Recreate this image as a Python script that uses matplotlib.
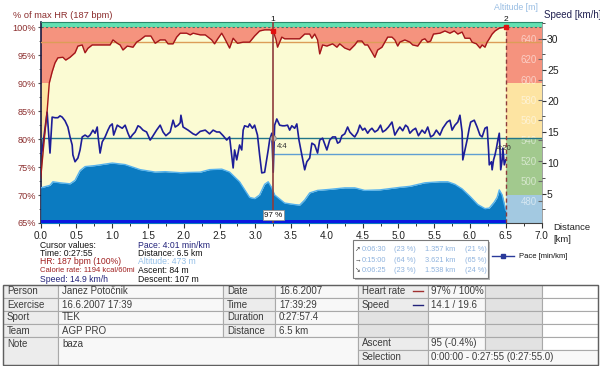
import matplotlib
matplotlib.use("Agg")
import matplotlib.pyplot as plt
from matplotlib.patches import Rectangle
from matplotlib.lines import Line2D
from matplotlib.ticker import MultipleLocator

plt.rcParams['font.family'] = ['Liberation Sans', 'DejaVu Sans']

# ---------------- data ----------------
hr_points = [(0.00, 73), (0.05, 80), (0.09, 85), (0.12, 90), (0.16, 92), (0.20, 93.6), (0.24, 94.5),
             (0.31, 94.6), (0.35, 94.1), (0.41, 94.6), (0.48, 95.4), (0.52, 96.6), (0.58, 96.8),
             (0.62, 95.4), (0.66, 96.2), (0.72, 96.8), (0.97, 96.8), (1.01, 97.7), (1.07, 97.1),
             (1.11, 96.8), (1.15, 95.9), (1.21, 96.6), (1.29, 96.4), (1.34, 97.3), (1.39, 97.7),
             (1.46, 98.4), (1.54, 98.4), (1.60, 97.1), (1.67, 97.7), (1.74, 97.7), (1.78, 97.0),
             (1.85, 97.0), (1.90, 98.2), (1.95, 98.9), (2.04, 98.9), (2.09, 98.6), (2.13, 98.9),
             (2.23, 98.6), (2.30, 98.6), (2.34, 98.2), (2.39, 97.7), (2.43, 97.0), (2.48, 98.0),
             (2.53, 98.9), (2.57, 98.0), (2.64, 96.25), (2.69, 98.0), (2.75, 97.1), (2.83, 97.3),
             (2.92, 97.3), (2.99, 98.4), (3.06, 99.3), (3.13, 99.5), (3.20, 99.5), (3.25, 99.3),
             (3.29, 97.7), (3.31, 96.4), (3.37, 98.2), (3.41, 97.9), (3.48, 97.9), (3.62, 97.9),
             (3.69, 98.75), (3.76, 98.75), (3.79, 98.0), (3.83, 98.75), (3.87, 97.7), (3.90, 95.2),
             (3.94, 96.8), (4.00, 96.6), (4.08, 97.0), (4.14, 96.4), (4.18, 97.0), (4.25, 96.25),
             (4.32, 95.9), (4.39, 96.8), (4.43, 97.5), (4.49, 97.5), (4.53, 96.8), (4.57, 96.8),
             (4.63, 95.5), (4.67, 94.6), (4.71, 95.9), (4.77, 96.4), (4.81, 97.3), (4.85, 98.2),
             (4.91, 98.2), (4.95, 97.7), (4.99, 96.6), (5.02, 97.3), (5.09, 97.7), (5.16, 97.3),
             (5.20, 96.8), (5.27, 96.6), (5.33, 97.7), (5.37, 97.9), (5.41, 97.3), (5.45, 97.5),
             (5.49, 98.75), (5.58, 98.9), (5.65, 99.3), (5.72, 98.9), (5.78, 99.3), (5.83, 98.75),
             (5.89, 99.1), (5.93, 98.0), (6.00, 98.0), (6.03, 97.3), (6.09, 97.0), (6.14, 96.25),
             (6.17, 96.8), (6.21, 96.4), (6.24, 97.3), (6.27, 97.9), (6.31, 98.75), (6.35, 99.3),
             (6.41, 99.8), (6.50, 100)]

speed_points = [(0.00, 11.3), (0.02, 12.0), (0.09, 18.2), (0.13, 11.6), (0.16, 17.4), (0.20, 17.3),
                (0.24, 17.3), (0.27, 17.6), (0.30, 17.4), (0.34, 16.8), (0.38, 15.8), (0.41, 14.2),
                (0.44, 12.9), (0.45, 11.3), (0.48, 10.2), (0.52, 10.8), (0.55, 12.1), (0.58, 14.2),
                (0.62, 14.5), (0.66, 14.2), (0.69, 14.5), (0.73, 15.3), (0.76, 14.8), (0.79, 15.8),
                (0.80, 14.5), (0.83, 11.6), (0.86, 13.4), (0.90, 14.2), (0.94, 15.3), (0.97, 16.0),
                (1.00, 16.3), (1.02, 14.5), (1.07, 16.1), (1.11, 15.8), (1.14, 15.6), (1.18, 16.1),
                (1.22, 14.8), (1.25, 14.0), (1.28, 14.5), (1.32, 15.0), (1.36, 16.0), (1.39, 15.8),
                (1.43, 15.3), (1.48, 15.0), (1.53, 13.7), (1.56, 14.2), (1.62, 15.3), (1.67, 16.1),
                (1.71, 15.0), (1.75, 14.4), (1.81, 15.0), (1.85, 16.9), (1.88, 15.8), (1.92, 16.1),
                (1.95, 16.5), (1.96, 17.7), (1.99, 15.8), (2.06, 15.3), (2.13, 14.7), (2.17, 14.5),
                (2.23, 15.1), (2.30, 15.3), (2.36, 14.7), (2.41, 15.3), (2.46, 15.0), (2.50, 15.0),
                (2.55, 14.4), (2.60, 13.7), (2.64, 14.2), (2.69, 9.2), (2.71, 12.1), (2.74, 10.5),
                (2.78, 12.9), (2.81, 12.1), (2.83, 15.3), (2.85, 16.0), (2.90, 15.8), (2.92, 16.3),
                (2.96, 15.6), (2.99, 16.1), (3.03, 14.5), (3.06, 11.3), (3.09, 8.4), (3.13, 8.5),
                (3.18, 12.1), (3.20, 13.7), (3.23, 14.8), (3.25, 8.5), (3.27, 16.1), (3.30, 17.1),
                (3.34, 16.1), (3.38, 16.0), (3.41, 16.0), (3.45, 16.1), (3.48, 15.3), (3.51, 16.0),
                (3.55, 15.6), (3.58, 16.3), (3.61, 13.7), (3.65, 11.3), (3.69, 8.9), (3.72, 10.2),
                (3.76, 10.8), (3.79, 13.2), (3.83, 12.9), (3.87, 11.6), (3.90, 13.7), (3.94, 14.0),
                (4.00, 12.1), (4.04, 13.7), (4.08, 14.2), (4.12, 14.2), (4.15, 13.2), (4.18, 13.4),
                (4.21, 14.4), (4.25, 14.7), (4.29, 15.8), (4.32, 15.0), (4.36, 14.5), (4.39, 14.2),
                (4.43, 15.0), (4.46, 16.1), (4.50, 15.3), (4.53, 15.6), (4.57, 14.8), (4.60, 15.3),
                (4.63, 15.6), (4.67, 15.0), (4.71, 15.3), (4.75, 16.1), (4.78, 15.0), (4.82, 15.3),
                (4.86, 15.8), (4.91, 16.6), (4.95, 14.5), (4.99, 15.3), (5.02, 15.8), (5.06, 15.2),
                (5.10, 16.1), (5.13, 15.8), (5.16, 14.8), (5.20, 15.3), (5.24, 15.6), (5.28, 14.4),
                (5.33, 15.3), (5.37, 14.8), (5.41, 15.8), (5.45, 14.2), (5.49, 14.5), (5.53, 15.3),
                (5.58, 14.5), (5.62, 15.6), (5.68, 16.6), (5.72, 16.9), (5.75, 15.3), (5.79, 16.1),
                (5.83, 16.6), (5.86, 17.7), (5.89, 15.0), (5.90, 10.5), (5.93, 12.1), (5.96, 13.7),
                (5.99, 15.6), (6.01, 16.6), (6.06, 16.9), (6.10, 15.8), (6.14, 14.5), (6.17, 14.2),
                (6.21, 15.6), (6.24, 15.8), (6.26, 12.1), (6.27, 9.7), (6.30, 10.2), (6.31, 8.9),
                (6.33, 10.5), (6.35, 11.3), (6.37, 12.4), (6.39, 13.7), (6.41, 14.8), (6.42, 12.1),
                (6.43, 8.9), (6.45, 10.5), (6.46, 12.4), (6.48, 9.7), (6.50, 10.5)]

alt_points = [(0.00, 493), (0.13, 495.5), (0.17, 499), (0.27, 498), (0.41, 497), (0.48, 500.4),
              (0.55, 510), (0.62, 514), (0.76, 515), (1.00, 517.5), (1.18, 516), (1.39, 511),
              (1.60, 508.6), (1.74, 509), (1.95, 508), (2.23, 508.5), (2.36, 511), (2.53, 511.5),
              (2.64, 508.6), (2.78, 499), (2.92, 483.6), (2.99, 482.4), (3.06, 486), (3.13, 496.5),
              (3.18, 499), (3.23, 493), (3.27, 486), (3.41, 478), (3.55, 476.5), (3.62, 476),
              (3.69, 481), (3.76, 488), (3.87, 490.5), (4.04, 491.5), (4.25, 493), (4.39, 493),
              (4.53, 490.5), (4.74, 491), (5.02, 493.5), (5.16, 494.5), (5.37, 498), (5.58, 499),
              (5.69, 499), (5.79, 496.5), (5.89, 492), (6.00, 484.6), (6.11, 476.5), (6.21, 472.5),
              (6.27, 473), (6.34, 479), (6.38, 483.6), (6.41, 491), (6.45, 486), (6.49, 474), (6.50, 471)]

avg_hr_pct = 97.3
avg_speed = 14.1
ref_speed = 11.4
cursor_km = [3.25, 6.5]
cursor_names = ["1", "2"]
cursor_hr = [99.3, 100]
cursor_speed = 14.0
total_km = 6.5

x_ticks = [0.0, 0.5, 1.0, 1.5, 2.0, 2.5, 3.0, 3.5, 4.0, 4.5, 5.0, 5.5, 6.0, 6.5, 7.0]
hr_ticks = [65, 70, 75, 80, 85, 90, 95, 100]
speed_ticks = [5, 10, 15, 20, 25, 30]
alt_ticks = [480, 500, 520, 540, 560, 580, 600, 620, 640]
zones = [(65, 70, '#a3c9e1'), (70, 80, '#a2c98e'), (80, 90, '#fde4a2'),
         (90, 100, '#f5937e'), (100, 102, '#62e1b2')]

cursor_left = [("Cursor values:", '#111111', 6.2), ("Time: 0:27:55", '#111111', 6.2),
               ("HR: 187 bpm (100%)", '#a02020', 6.2), ("Calorie rate: 1194 kcal/60mi", '#a02020', 5.5),
               ("Speed: 14.9 km/h", '#22227a', 6.2)]
cursor_right = [("Pace: 4:01 min/km", '#22227a'), ("Distance: 6.5 km", '#111111'),
                ("Altitude: 473 m", '#94c0e8'), ("Ascent: 84 m", '#111111'),
                ("Descent: 107 m", '#111111')]

leg_arrows = ['↗', '→', '↘']
leg_times = ['0:06:30', '0:15:00', '0:06:25']
leg_tpct = ['(23 %)', '(64 %)', '(23 %)']
leg_dist = ['1.357 km', '3.621 km', '1.538 km']
leg_dpct = ['(21 %)', '(65 %)', '(24 %)']

left_labels = ["Person", "Exercise", "Sport", "Team"]
left_values = ["Janez Potočnik", "16.6.2007 17:39", "TEK", "AGP PRO"]
note_label, note_value = "Note", "baza"
mid_labels = ["Date", "Time", "Duration", "Distance"]
mid_values = ["16.6.2007", "17:39:29", "0:27:57.4", "6.5 km"]
right_labels = ["Heart rate", "Speed", "", "", "Ascent"]
right_values = ["97% / 100%", "14.1 / 19.6", "", "", "95 (-0.4%)"]
right_marks = ['#a03030', '#22227a', None, None, None]
sel_label, sel_value = "Selection", "0:00:00 - 0:27:55 (0:27:55.0)"

# ---------------- figure ----------------
W, H = 600, 366
fig = plt.figure(figsize=(6.0, 3.66), dpi=100)
fig.patch.set_facecolor('white')


def P(x, y):
    return (x / W, 1 - y / H)


L, R, T, B = 40.7, 541.5, 22, 223
ax = fig.add_axes([L / W, 1 - B / H, (R - L) / W, (B - T) / H])
ax_alt = ax.twinx()
ax_spd = ax.twinx()
ax_hr = ax.twinx()

ax.set_xlim(0, 7)
ax.set_ylim(65, 100.9)
ax_hr.set_ylim(65, 100.9)
ax_alt.set_ylim(458.3, 656.8)
ax_spd.set_ylim(0.32, 32.74)

hr_km = [p[0] for p in hr_points]
hr_val = [p[1] for p in hr_points]
sp_km = [p[0] for p in speed_points]
sp_val = [p[1] for p in speed_points]
al_km = [p[0] for p in alt_points]
al_val = [p[1] for p in alt_points]

# zone background
for lo, hi, c in zones:
    ax.axhspan(lo, hi, color=c, lw=0, zorder=0)
ax.axhline(100, color='#3f7a68', lw=0.8, ls=(0, (2, 2)), zorder=1)
# area below HR
ax.fill_between(hr_km, 64, hr_val, color='#fbfbd3', lw=0, zorder=1)

# altitude
ax_alt.fill_between(al_km, 440, al_val, color='#0b7bc1', lw=0)
ax_alt.plot(al_km, al_val, color='#55b2ee', lw=1.0)

# speed
ax_spd.axhline(avg_speed, color='#217588', lw=1.0)
ax_spd.plot([cursor_km[0], cursor_km[1]], [ref_speed, ref_speed], color='#5f9fd2', lw=1.0)
ax_spd.plot(sp_km, sp_val, color='#1d1d98', lw=1.2)
ax_spd.plot([cursor_km[0]], [cursor_speed], 'o', ms=4, mfc='#b8b8b8', mec='#808080', mew=0.6)
ax_spd.text(3.30, 12.6, "4:4", fontsize=5.5, color='#303030', ha='left', va='center')
ax_spd.text(6.37, 12.4, "4:20", fontsize=5.5, color='#303030', ha='left', va='center')

# HR
ax_hr.axhline(avg_hr_pct, color='#dc9d58', lw=1.0)
ax_hr.plot(hr_km, hr_val, color='#a3161a', lw=1.0)
ax_hr.fill_between([0, total_km], 65, 65.55, color='#0a18e0', lw=0)
ax_hr.axvline(cursor_km[0], color='#8e3c3c', lw=1.2)
ax_hr.axvline(cursor_km[1], color='#8e3c3c', lw=1.0, ls=(0, (3, 2)))
ax_hr.plot(cursor_km, cursor_hr, 's', ms=3, color='#e01010')
for k, n in zip(cursor_km, cursor_names):
    ax_hr.text(k, 101.35, n, fontsize=6, ha='center', va='center', color='#111111', clip_on=False)
ax_hr.text(cursor_km[0], 66.4, "97 %", fontsize=5.8, ha='center', va='center', color='#111111',
           bbox=dict(boxstyle='square,pad=0.15', fc='white', ec='#909090', lw=0.6))

# axes styling
for a in (ax_alt, ax_spd, ax_hr):
    for s in a.spines.values():
        s.set_visible(False)
ax.spines['left'].set_color('#1a1a40')
ax.spines['left'].set_linewidth(1.2)
ax.spines['top'].set_color('#2a8a6c')
ax.spines['right'].set_color('#909090')
ax.spines['right'].set_linewidth(0.6)
ax.spines['bottom'].set_color('#404040')
ax.spines['bottom'].set_linewidth(0.8)

ax.set_xticks(x_ticks)
ax.set_xticklabels([f"{v:.1f}" for v in x_ticks])
ax.xaxis.set_minor_locator(MultipleLocator(0.25))
ax.tick_params(axis='x', which='major', direction='out', length=3.5, width=0.8, colors='#333333',
               labelsize=7.2, pad=2.5, labelcolor='#222222')
ax.tick_params(axis='x', which='minor', direction='out', length=2.2, width=0.7, colors='#333333')
ax.set_yticks(hr_ticks)
ax.set_yticklabels([f"{v}%" for v in hr_ticks])
ax.yaxis.set_minor_locator(MultipleLocator(2.5))
ax.tick_params(axis='y', which='major', direction='out', length=2.5, width=0.8, colors='#555555',
               labelsize=6.6, pad=1.2, labelcolor='#8b2d2d')
ax.tick_params(axis='y', which='minor', direction='out', length=1.5, width=0.6, colors='#555555')

ax_spd.set_yticks(speed_ticks)
ax_spd.set_yticklabels([str(v) for v in speed_ticks])
ax_spd.yaxis.set_minor_locator(MultipleLocator(2.5))
ax_spd.tick_params(axis='y', which='major', direction='out', length=3, width=0.8, colors='#333333',
                   labelsize=7.5, pad=1.0, labelcolor='#222222')
ax_spd.tick_params(axis='y', which='minor', direction='out', length=1.8, width=0.6, colors='#333333')

ax_alt.set_yticks(alt_ticks)
ax_alt.set_yticklabels([str(v) for v in alt_ticks])
ax_alt.tick_params(axis='y', direction='in', length=3, width=0.8, colors='#6a6a6a',
                   labelsize=7.0, pad=-15, labelcolor=(1, 1, 1, 0.55))
ax_hr.set_yticks([])
ax_hr.tick_params(right=False, labelright=False)

# header texts
fig.text(*P(13, 15), "% of max HR (187 bpm)", fontsize=6.7, color='#8b2d2d', ha='left', va='center')
fig.text(*P(494, 7.5), "Altitude [m]", fontsize=6.3, color='#98bde3', ha='left', va='center')
fig.text(*P(544, 15), "Speed [km/h]", fontsize=7, color='#202050', ha='left', va='center')
fig.text(*P(553, 228), "Distance", fontsize=6.8, color='#222222', ha='left', va='center')
fig.text(*P(553, 240), "[km]", fontsize=6.8, color='#222222', ha='left', va='center')

# cursor values block
row_y = [245, 253.5, 262, 270.5, 279]
for (txt, c, fs), y in zip(cursor_left, row_y):
    fig.text(*P(40.5, y), txt, fontsize=fs, color=c, ha='left', va='center')
for (txt, c), y in zip(cursor_right, row_y):
    fig.text(*P(138, y), txt, fontsize=6.2, color=c, ha='left', va='center')

# zone legend box
fig.patches.append(Rectangle((355 / W, 1 - 280 / H), 135 / W, 38 / H,
                             transform=fig.transFigure, fc='#b8b8b8', ec='none', zorder=1))
fig.patches.append(Rectangle((353 / W, 1 - 278 / H), 135 / W, 38 / H,
                             transform=fig.transFigure, fc='white', ec='#7a7a7a', lw=0.8, zorder=2))
leg_y = [249.5, 260, 271]
for i, y in enumerate(leg_y):
    fig.text(*P(354.5, y), leg_arrows[i], fontsize=4.8, color='#404040', ha='left', va='center', zorder=3)
    fig.text(*P(361.5, y), leg_times[i], fontsize=5.3, color='#8fb3de', ha='left', va='center', zorder=3)
    fig.text(*P(393.5, y), leg_tpct[i], fontsize=5.3, color='#8fb3de', ha='left', va='center', zorder=3)
    fig.text(*P(425, y), leg_dist[i], fontsize=5.3, color='#8fb3de', ha='left', va='center', zorder=3)
    fig.text(*P(465, y), leg_dpct[i], fontsize=5.3, color='#8fb3de', ha='left', va='center', zorder=3)

fig.lines.append(Line2D([492 / W, 514 / W], [1 - 256 / H, 1 - 256 / H], transform=fig.transFigure,
                        color='#2a3a9a', lw=1.0))
fig.lines.append(Line2D([503 / W], [1 - 256 / H], transform=fig.transFigure, marker='s', ms=2.5,
                        color='#2a3a9a', lw=0))
fig.text(*P(519, 256), "Pace [min/km]", fontsize=5.5, color='#111111', ha='left', va='center')

# ---------------- table ----------------
rows_y = [284.5, 298, 311, 324, 337, 350, 365]
col_x = [3, 58, 223, 275, 358, 428, 485, 542, 598]
LAB = '#ececec'
VAL = '#f8f8f8'
GRAY = '#e2e2e2'
WHITE = '#ffffff'
TC = '#3c3c3c'


def cell(x0, x1, y0, y1, fc, text='', tx=None, ty=None, color=TC):
    fig.patches.append(Rectangle((x0 / W, 1 - y1 / H), (x1 - x0) / W, (y1 - y0) / H,
                                 transform=fig.transFigure, fc=fc, ec='#a9a9a9', lw=0.8))
    if text:
        xx = x0 + 4 if tx is None else tx
        yy = (y0 + y1) / 2 if ty is None else ty
        fig.text(*P(xx, yy), text, fontsize=7, color=color, ha='left', va='center')


for i in range(4):
    y0, y1 = rows_y[i], rows_y[i + 1]
    cell(col_x[0], col_x[1], y0, y1, LAB, left_labels[i])
    cell(col_x[1], col_x[2], y0, y1, VAL, left_values[i])
    cell(col_x[2], col_x[3], y0, y1, LAB, mid_labels[i])
    cell(col_x[3], col_x[4], y0, y1, VAL, mid_values[i])
cell(col_x[0], col_x[1], rows_y[4], rows_y[6], LAB, note_label, ty=344)
cell(col_x[1], col_x[4], rows_y[4], rows_y[6], VAL, note_value, ty=344)

for i in range(5):
    y0, y1 = rows_y[i], rows_y[i + 1]
    cell(col_x[4], col_x[5], y0, y1, LAB if right_labels[i] else GRAY, right_labels[i])
    cell(col_x[5], col_x[6], y0, y1, VAL, right_values[i], tx=col_x[5] + 3)
    cell(col_x[6], col_x[7], y0, y1, GRAY)
    cell(col_x[7], col_x[8], y0, y1, WHITE)
    if right_marks[i]:
        fig.lines.append(Line2D([413 / W, 423 / W], [1 - (y0 + y1) / 2 / H] * 2,
                                transform=fig.transFigure, color=right_marks[i], lw=1.0))
cell(col_x[4], col_x[5], rows_y[5], rows_y[6], LAB, sel_label)
cell(col_x[5], col_x[8], rows_y[5], rows_y[6], VAL, sel_value, tx=col_x[5] + 3)

# outer border of the table
fig.patches.append(Rectangle((col_x[0] / W, 1 - rows_y[-1] / H), (col_x[-1] - col_x[0]) / W,
                             (rows_y[-1] - rows_y[0]) / H, transform=fig.transFigure,
                             fc='none', ec='#606060', lw=1.0))

fig.savefig("out.png", dpi=100)
